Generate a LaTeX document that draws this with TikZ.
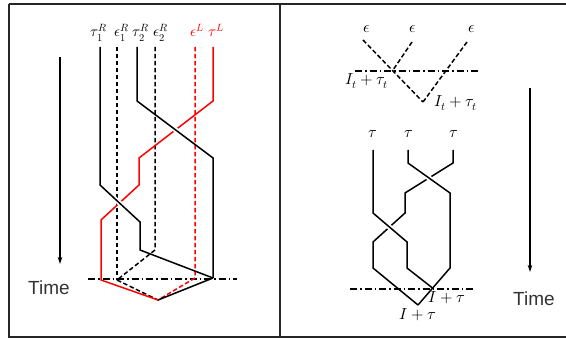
\documentclass[tikz,border=0pt]{standalone}
\usepackage{fontspec}
\usepackage{unicode-math}
\newfontfamily\timefont{Liberation Sans}
\usetikzlibrary{arrows.meta,calc}
\begin{document}
\begin{tikzpicture}[x=1pt,y=-1pt,
  strand/.style={line width=1.5pt},
  dstrand/.style={line width=1.5pt, dash pattern=on 4.5pt off 2.5pt},
  dashdot/.style={line width=1.5pt, dash pattern=on 7pt off 3pt on 1.5pt off 3pt},
  under/.style={white, line width=5pt},
  lbl/.style={inner sep=0pt, anchor=base, font=\fontsize{16}{18}\selectfont},
  llbl/.style={inner sep=0pt, anchor=base, font=\fontsize{15}{17}\selectfont},
  timelbl/.style={inner sep=0pt, font=\timefont\fontsize{19}{22}\selectfont, text=black!80},
  timearrow/.style={line width=1.2pt, -{Stealth[length=7pt,width=4.5pt]}}]
\useasboundingbox (0,0) rectangle (566,339);
% frame
\draw[line width=1.8pt, black!85] (9,4) -- (570,4) (9,4) -- (9,337) -- (570,337);
\draw[line width=1.8pt, black!85] (280,4) -- (280,337);

% ---------- left panel ----------
\coordinate (A) at (117,280);
\coordinate (B) at (158,300);
\coordinate (C) at (213,278);
% labels
\node[llbl] (t1R) at (99,37) {$\tau_1^R$};
\node[llbl] (e1R) at (121.5,37) {$\epsilon_1^R$};
\node[llbl] (t2R) at (141,37) {$\tau_2^R$};
\node[llbl] (e2R) at (160.5,37) {$\epsilon_2^R$};
\node[llbl, text=red] (eL) at (197,37) {$\epsilon^L$};
\node[llbl, text=red] (tL) at (216,37) {$\tau^L$};
% dash-dot line
\draw[dashdot] (88,279) -- (237,279);
% dashed epsilons
\draw[dstrand] (117,47) -- (A);
\draw[dstrand] (155,47) -- (155,250) -- (A);
\draw[dstrand] (A) -- (B);
\draw[dstrand, red] (195,47) -- (195,278) -- (B);
\draw[strand] (B) -- (C);
% red tau^L (under)
\draw[strand, red] (213,47) -- (213,101) -- (139,158) -- (139,185) -- (101,220) -- (101,280) -- (B);
% tau_2 over red
\draw[under] ($(137,101)!0.40!(213,158)$) -- ($(137,101)!0.60!(213,158)$);
\draw[strand] (137,47) -- (137,101) -- (213,158) -- (C);
% tau_1 over red
\draw[under] ($(100,185)!0.30!(140,222)$) -- ($(100,185)!0.70!(140,222)$);
\draw[strand] (100,47) -- (100,185) -- (140,222) -- (140,250) -- (C);
% time arrow
\draw[timearrow] (60,57) -- (60,264);
\node[timelbl] (timeL) at (49,288) {Time};

% ---------- right panel ----------
\node[lbl] (eA) at (367,33) {$\epsilon$};
\node[lbl] (eB) at (413,33) {$\epsilon$};
\node[lbl] (eC) at (472,33) {$\epsilon$};
\coordinate (V) at (423,102);
\coordinate (X) at (393,70);
\draw[dashdot] (355,71) -- (478,71);
\draw[dstrand] (363,40) -- (V);
\draw[dstrand] (412,42) -- (X);
\draw[dstrand] (467,42) -- (V);
\node[lbl] (It1) at (367,85) {$I_t+\tau_t$};
\node[lbl] (It2) at (456,107) {$I_t+\tau_t$};

\node[lbl] (ta) at (373,138) {$\tau$};
\node[lbl] (tb) at (409,138) {$\tau$};
\node[lbl] (tc) at (454,138) {$\tau$};
\coordinate (W) at (418,305);
\draw[dashdot] (350,289) -- (473,289);
% tau_c (under twice)
\draw[strand] (453,150) -- (453,163) -- (405,193) -- (405,213) -- (373,242) -- (373,268) -- (W);
% tau_b over
\draw[under] ($(408,163)!0.36!(450,193)$) -- ($(408,163)!0.64!(450,193)$);
\draw[strand] (408,150) -- (408,163) -- (450,193) -- (450,268) -- (W);
% tau_a over
\draw[under] ($(373,213)!0.34!(407,242)$) -- ($(373,213)!0.66!(407,242)$);
\draw[strand] (373,150) -- (373,213) -- (407,242) -- (407,268) -- (432.5,288);
\node[lbl] (I1) at (447,303) {$I+\tau$};
\node[lbl] (I2) at (418,320) {$I+\tau$};
% time arrow
\draw[timearrow] (530,88) -- (530,272);
\node[timelbl] (timeR) at (534,299) {Time};
\end{tikzpicture}
\end{document}
